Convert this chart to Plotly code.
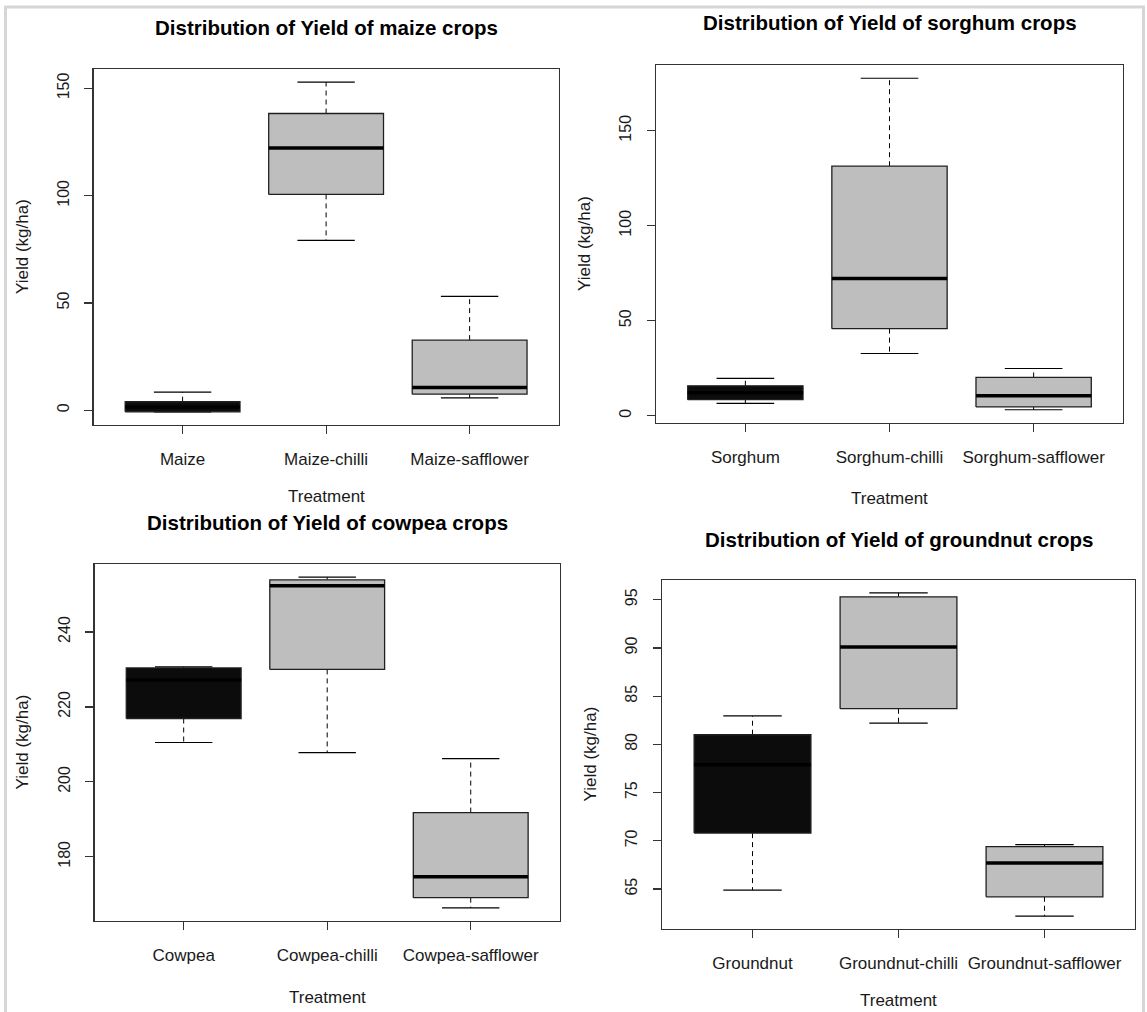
import plotly.graph_objects as go

W, H = 1147, 1012

# ---------------- data ----------------
maize_cats = ["Maize", "Maize-chilli", "Maize-safflower"]
maize_low = [-0.7, 79.2, 5.8]
maize_q1 = [-0.7, 100.6, 7.5]
maize_med = [1.5, 122.2, 10.6]
maize_q3 = [4.0, 138.3, 32.7]
maize_high = [8.5, 152.9, 53.1]

sorghum_cats = ["Sorghum", "Sorghum-chilli", "Sorghum-safflower"]
sorghum_low = [6.5, 32.7, 3.1]
sorghum_q1 = [8.4, 45.8, 4.6]
sorghum_med = [12.0, 72.2, 10.5]
sorghum_q3 = [15.7, 131.3, 20.1]
sorghum_high = [19.6, 177.6, 24.8]

cowpea_cats = ["Cowpea", "Cowpea-chilli", "Cowpea-safflower"]
cowpea_low = [210.5, 207.8, 166.4]
cowpea_q1 = [216.9, 230.0, 169.1]
cowpea_med = [227.2, 252.3, 174.7]
cowpea_q3 = [230.4, 253.9, 191.8]
cowpea_high = [230.7, 254.6, 206.2]

groundnut_cats = ["Groundnut", "Groundnut-chilli", "Groundnut-safflower"]
groundnut_low = [64.9, 82.2, 62.2]
groundnut_q1 = [70.8, 83.7, 64.2]
groundnut_med = [77.9, 90.1, 67.7]
groundnut_q3 = [81.0, 95.3, 69.4]
groundnut_high = [82.95, 95.7, 69.6]

titles = ["Distribution of Yield of maize crops",
          "Distribution of Yield of sorghum crops",
          "Distribution of Yield of cowpea crops",
          "Distribution of Yield of groundnut crops"]
dticks = [50, 50, 20, 5]
box_colors = ["#0c0c0c", "#bebebe", "#bebebe"]

# ---------------- layout geometry (pixels) ----------------
panels_px = [
    dict(x0=93.6, x1=558.6, y0=69, y1=425, title_y=28, ylab_x=22, xlab_y=497),
    dict(x0=656, x1=1123, y0=65, y1=423, title_y=23, ylab_x=585, xlab_y=498),
    dict(x0=94.7, x1=559.7, y0=564, y1=921, title_y=522, ylab_x=22, xlab_y=997),
    dict(x0=662, x1=1135, y0=580, y1=929, title_y=539, ylab_x=590, xlab_y=1000),
]

def px(x):
    return x / W

def py(y):
    return 1 - y / H

data = [
    (maize_cats, maize_low, maize_q1, maize_med, maize_q3, maize_high),
    (sorghum_cats, sorghum_low, sorghum_q1, sorghum_med, sorghum_q3, sorghum_high),
    (cowpea_cats, cowpea_low, cowpea_q1, cowpea_med, cowpea_q3, cowpea_high),
    (groundnut_cats, groundnut_low, groundnut_q1, groundnut_med, groundnut_q3, groundnut_high),
]

FONT = "Liberation Sans, Arial, Helvetica, sans-serif"
TXT = "#1a1a1a"

fig = go.Figure()
annotations = []
layout_axes = {}

half_box = 0.4
half_cap = 0.2

for i, (cats, low, q1, med, q3, high) in enumerate(data):
    n = i + 1
    xa = "x" if n == 1 else f"x{n}"
    ya = "y" if n == 1 else f"y{n}"
    pos = list(range(1, len(cats) + 1))
    for j, p in enumerate(pos):
        # whiskers (dashed)
        fig.add_trace(go.Scatter(x=[p, p, None, p, p], y=[q3[j], high[j], None, q1[j], low[j]],
                                 mode="lines", line=dict(color="black", width=1, dash="5px,4px"),
                                 xaxis=xa, yaxis=ya, showlegend=False, hoverinfo="skip"))
        # caps
        fig.add_trace(go.Scatter(x=[p - half_cap, p + half_cap, None, p - half_cap, p + half_cap],
                                 y=[high[j], high[j], None, low[j], low[j]],
                                 mode="lines", line=dict(color="black", width=1.2),
                                 xaxis=xa, yaxis=ya, showlegend=False, hoverinfo="skip"))
        # box
        fig.add_trace(go.Scatter(x=[p - half_box, p + half_box, p + half_box, p - half_box, p - half_box],
                                 y=[q1[j], q1[j], q3[j], q3[j], q1[j]],
                                 mode="lines", fill="toself", fillcolor=box_colors[j],
                                 line=dict(color="#202020", width=1.3),
                                 xaxis=xa, yaxis=ya, showlegend=False, hoverinfo="skip"))
        # median
        fig.add_trace(go.Scatter(x=[p - half_box, p + half_box], y=[med[j], med[j]],
                                 mode="lines", line=dict(color="black", width=3.5),
                                 xaxis=xa, yaxis=ya, showlegend=False, hoverinfo="skip"))

    dmin = min(low + q1)
    dmax = max(high + q3)
    span = dmax - dmin
    yr = [dmin - 0.04 * span, dmax + 0.04 * span]
    xr = [1 - 0.5 - 0.04 * len(cats), len(cats) + 0.5 + 0.04 * len(cats)]

    g = panels_px[i]
    axcommon = dict(showline=True, linecolor="#333333", linewidth=1.4, mirror=True,
                    ticks="outside", ticklen=8, tickcolor="#333333", tickwidth=1.2,
                    showgrid=False, zeroline=False)
    layout_axes["xaxis" if n == 1 else f"xaxis{n}"] = dict(
        axcommon, domain=[px(g["x0"]), px(g["x1"])], range=xr,
        tickvals=pos, ticktext=cats, anchor=ya, ticklabelstandoff=10,
        tickfont=dict(family=FONT, size=17, color=TXT))
    layout_axes["yaxis" if n == 1 else f"yaxis{n}"] = dict(
        axcommon, domain=[py(g["y1"]), py(g["y0"])], range=yr,
        tick0=0, dtick=dticks[i], tickangle=-90, anchor=xa, ticklabelstandoff=9,
        tickfont=dict(family=FONT, size=16, color=TXT))

    cx = (g["x0"] + g["x1"]) / 2
    cy = (g["y0"] + g["y1"]) / 2
    annotations.append(dict(text=f"<b>{titles[i]}</b>", x=px(cx), y=py(g["title_y"]),
                            xref="paper", yref="paper", showarrow=False,
                            xanchor="center", yanchor="middle",
                            font=dict(family=FONT, size=20.5, color="black")))
    annotations.append(dict(text="Treatment", x=px(cx), y=py(g["xlab_y"]),
                            xref="paper", yref="paper", showarrow=False,
                            xanchor="center", yanchor="middle",
                            font=dict(family=FONT, size=17, color=TXT)))
    annotations.append(dict(text="Yield (kg/ha)", x=px(g["ylab_x"]), y=py(cy),
                            xref="paper", yref="paper", showarrow=False, textangle=-90,
                            xanchor="center", yanchor="middle",
                            font=dict(family=FONT, size=17, color=TXT)))

border = "#d6d6d6"
shapes = [
    dict(type="line", xref="paper", yref="paper", x0=px(5.5), x1=px(5.5), y0=py(6), y1=py(1012),
         line=dict(color=border, width=3)),
    dict(type="line", xref="paper", yref="paper", x0=px(4), x1=px(1145), y0=py(7), y1=py(7),
         line=dict(color=border, width=3)),
    dict(type="line", xref="paper", yref="paper", x0=px(1143.5), x1=px(1143.5), y0=py(6), y1=py(1012),
         line=dict(color=border, width=3)),
]

fig.update_layout(width=W, height=H, margin=dict(l=0, r=0, t=0, b=0),
                  paper_bgcolor="white", plot_bgcolor="white",
                  annotations=annotations, shapes=shapes, showlegend=False,
                  hovermode=False, **layout_axes)

# remove the browser's default 8px page margin so the figure sits at the window origin
fig.write_html("out.html", config={"displayModeBar": False, "staticPlot": True},
               post_script="document.body.style.margin='0';document.body.style.overflow='hidden';")
